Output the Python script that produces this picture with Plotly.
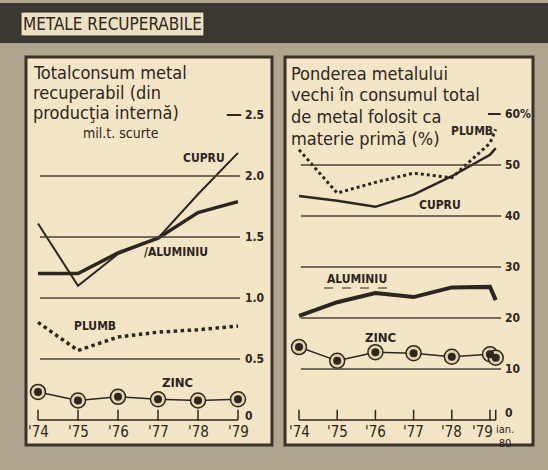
import plotly.graph_objects as go

# ---------------- data ----------------
years = [1974, 1975, 1976, 1977, 1978, 1979]
year_labels = ["'74", "'75", "'76", "'77", "'78", "'79"]

# left panel: total consumption of recovered metal (mil. short tons)
cupru_total = [1.61, 1.10, 1.36, 1.49, 1.85, 2.19]
aluminiu_total = [1.20, 1.20, 1.37, 1.49, 1.70, 1.79]
plumb_total = [0.80, 0.57, 0.68, 0.72, 0.74, 0.77]
zinc_total = [0.23, 0.16, 0.19, 0.17, 0.16, 0.17]
left_ticks = [0, 0.5, 1.0, 1.5, 2.0, 2.5]
left_tick_labels = ["0", "0.5", "1.0", "1.5", "2.0", "2.5"]

# right panel: share of old metal (%), incl. January 1980
years_r = [1974, 1975, 1976, 1977, 1978, 1979, 1979.15]
cupru_pond = [43.9, 43.0, 41.8, 44.2, 47.8, 52.0, 53.3]
plumb_pond = [53.0, 44.5, 46.6, 48.4, 47.5, 54.3, 57.0]
aluminiu_pond = [20.4, 23.1, 24.9, 24.1, 26.0, 26.1, 23.5]
zinc_pond = [14.3, 11.6, 13.3, 13.1, 12.4, 12.9, 12.2]
right_ticks = [0, 10, 20, 30, 40, 50, 60]
right_tick_labels = ["0", "10", "20", "30", "40", "50", "60%"]

left_title_lines = ["Totalconsum metal", "recuperabil (din", "producţia internă)"]
right_title_lines = ["Ponderea metalului", "vechi în consumul total",
                     "de metal folosit ca", "materie primă (%)"]

# ---------------- style ----------------
W, H = 548, 470
INK = "#2b2620"
CREAM = "#f4e5c6"
FONT = "DejaVu Sans Condensed, Liberation Sans Narrow, DejaVu Sans"


def px(x):
    return x / W


def py(y):
    return 1 - y / H


fig = go.Figure()

# left panel traces
fig.add_trace(go.Scatter(x=years, y=cupru_total, mode="lines",
                         line=dict(color=INK, width=2), xaxis="x", yaxis="y"))
fig.add_trace(go.Scatter(x=years, y=aluminiu_total, mode="lines",
                         line=dict(color=INK, width=3.5), xaxis="x", yaxis="y"))
fig.add_trace(go.Scatter(x=years, y=plumb_total, mode="lines",
                         line=dict(color=INK, width=3.5, dash="dot"), xaxis="x", yaxis="y"))
fig.add_trace(go.Scatter(x=years, y=zinc_total, mode="lines+markers",
                         line=dict(color=INK, width=1.5),
                         marker=dict(size=15, color="#e6d3ac", line=dict(color=INK, width=1.5)),
                         cliponaxis=False, xaxis="x", yaxis="y"))
fig.add_trace(go.Scatter(x=years, y=zinc_total, mode="markers",
                         marker=dict(size=8, color=INK), cliponaxis=False,
                         xaxis="x", yaxis="y"))

# right panel traces
fig.add_trace(go.Scatter(x=years_r, y=cupru_pond, mode="lines",
                         line=dict(color=INK, width=2.5), xaxis="x2", yaxis="y2"))
fig.add_trace(go.Scatter(x=years_r, y=plumb_pond, mode="lines",
                         line=dict(color=INK, width=3, dash="dot"), xaxis="x2", yaxis="y2"))
fig.add_trace(go.Scatter(x=years_r, y=aluminiu_pond, mode="lines",
                         line=dict(color=INK, width=4), xaxis="x2", yaxis="y2"))
fig.add_trace(go.Scatter(x=years_r, y=zinc_pond, mode="lines+markers",
                         line=dict(color=INK, width=1.5),
                         marker=dict(size=15, color="#e6d3ac", line=dict(color=INK, width=1.5)),
                         cliponaxis=False, xaxis="x2", yaxis="y2"))
fig.add_trace(go.Scatter(x=years_r, y=zinc_pond, mode="markers",
                         marker=dict(size=8, color=INK), cliponaxis=False,
                         xaxis="x2", yaxis="y2"))

shapes = []
ann = []

# background decorations (paper coords)
shapes.append(dict(type="rect", xref="paper", yref="paper", x0=0, x1=1, y0=py(43), y1=py(3),
                   fillcolor="#3b3832", line=dict(width=0), layer="below"))
shapes.append(dict(type="rect", xref="paper", yref="paper", x0=px(21), x1=px(204), y0=py(36), y1=py(12),
                   fillcolor="#eee0c2", line=dict(color=INK, width=1), layer="below"))
for x0, x1 in [(26, 272), (285, 533)]:
    shapes.append(dict(type="rect", xref="paper", yref="paper", x0=px(x0), x1=px(x1), y0=py(445), y1=py(57),
                       fillcolor=CREAM, line=dict(color="#38332c", width=3), layer="below"))

ann.append(dict(xref="paper", yref="paper", x=px(112.5), y=py(24), text="METALE RECUPERABILE",
                showarrow=False, xanchor="center", yanchor="middle",
                font=dict(family=FONT, size=17, color=INK)))

# left grid / ticks
for v, lab in zip(left_ticks, left_tick_labels):
    if v == 0:
        ann.append(dict(xref="x", yref="y", x=1979.13, y=v, text=lab, showarrow=False,
                        xanchor="left", yanchor="bottom", yshift=-5,
                        font=dict(family=FONT, size=12, color=INK, weight="bold")))
        continue
    elif v == left_ticks[-1]:
        shapes.append(dict(type="line", xref="x", yref="y", x0=1978.72, x1=1979.08, y0=v, y1=v,
                           line=dict(color=INK, width=2)))
    else:
        shapes.append(dict(type="line", xref="x", yref="y", x0=1974.05, x1=1979.05, y0=v, y1=v,
                           line=dict(color="#4a4236", width=1.6)))
    ann.append(dict(xref="x", yref="y", x=1979.13, y=v, text=lab, showarrow=False,
                    xanchor="left", yanchor="middle",
                    font=dict(family=FONT, size=12, color=INK, weight="bold")))
shapes.append(dict(type="line", xref="x", yref="y", x0=years[0], x1=years[-1], y0=0, y1=0,
                   line=dict(color=INK, width=1.5)))
for yr, lab in zip(years, year_labels):
    shapes.append(dict(type="line", xref="x", yref="y", x0=yr, x1=yr, y0=0, y1=0.085,
                       line=dict(color=INK, width=1.5)))
    ann.append(dict(xref="x", yref="y", x=yr, y=0, text=lab, showarrow=False,
                    xanchor="center", yanchor="top", yshift=-1,
                    font=dict(family=FONT, size=15, color=INK)))

# right grid / ticks
for v, lab in zip(right_ticks, right_tick_labels):
    if v == 0:
        ann.append(dict(xref="x2", yref="y2", x=1979.33, y=v, text=lab, showarrow=False,
                        xanchor="left", yanchor="bottom", yshift=-2,
                        font=dict(family=FONT, size=12, color=INK, weight="bold")))
        continue
    elif v == right_ticks[-1]:
        shapes.append(dict(type="line", xref="x2", yref="y2", x0=1978.95, x1=1979.28, y0=v, y1=v,
                           line=dict(color=INK, width=2)))
    else:
        shapes.append(dict(type="line", xref="x2", yref="y2", x0=1974.05, x1=1979.29, y0=v, y1=v,
                           line=dict(color="#4a4236", width=1.6)))
    ann.append(dict(xref="x2", yref="y2", x=1979.33, y=v, text=lab, showarrow=False,
                    xanchor="left", yanchor="middle",
                    font=dict(family=FONT, size=12, color=INK, weight="bold")))
shapes.append(dict(type="line", xref="x2", yref="y2", x0=years_r[0], x1=years_r[-1], y0=0, y1=0,
                   line=dict(color=INK, width=1.5)))
for yr in years_r:
    shapes.append(dict(type="line", xref="x2", yref="y2", x0=yr, x1=yr, y0=0, y1=2.0,
                       line=dict(color=INK, width=1.5)))
for yr, lab in zip(years, year_labels):
    ann.append(dict(xref="x2", yref="y2", x=yr, y=0, text=lab, showarrow=False,
                    xanchor="center", yanchor="top", yshift=-1,
                    xshift=(-8 if yr == years[-1] else 0),
                    font=dict(family=FONT, size=15, color=INK)))
ann.append(dict(xref="x2", yref="y2", x=1979.4, y=0, text="ian.<br>80", showarrow=False,
                xanchor="center", yanchor="top", align="center", yshift=-1,
                font=dict(family=FONT, size=11, color=INK)))

# panel titles (one annotation per printed line)
for i, t in enumerate(left_title_lines):
    ann.append(dict(xref="paper", yref="paper", x=px(31), y=py(72 + 20.5 * i), text=t,
                    showarrow=False, xanchor="left", yanchor="middle",
                    font=dict(family=FONT, size=18, color=INK)))
ann.append(dict(xref="paper", yref="paper", x=px(121), y=py(133), text="mil.t. scurte",
                showarrow=False, xanchor="center", yanchor="middle",
                font=dict(family=FONT, size=14, color=INK)))
for i, t in enumerate(right_title_lines):
    ann.append(dict(xref="paper", yref="paper", x=px(289), y=py(73 + 21.7 * i), text=t,
                    showarrow=False, xanchor="left", yanchor="middle",
                    font=dict(family=FONT, size=18, color=INK)))


# series labels
def lab(x, y, t, size=12):
    ann.append(dict(xref="paper", yref="paper", x=px(x), y=py(y), text=t, showarrow=False,
                    xanchor="center", yanchor="middle",
                    font=dict(family=FONT, size=size, color=INK, weight="bold")))


lab(204, 158, "CUPRU")
lab(176, 252, "/ALUMINIU")
lab(95, 326, "PLUMB")
lab(177, 382, "ZINC", 13)
lab(472, 131, "PLUMB")
lab(440, 205, "CUPRU")
lab(357, 279, "ALUMINIU")
lab(380, 337, "ZINC", 13)
shapes.append(dict(type="line", xref="paper", yref="paper", x0=px(324), x1=px(392), y0=py(288), y1=py(288),
                   line=dict(color=INK, width=1, dash="dash")))

fig.update_layout(
    width=W, height=H, margin=dict(l=0, r=0, t=0, b=0),
    paper_bgcolor="#b0a68f", plot_bgcolor="rgba(0,0,0,0)",
    showlegend=False, shapes=shapes, annotations=ann,
    xaxis=dict(domain=[px(26), px(272)], range=[1973.7, 1979.85], visible=False, fixedrange=True),
    yaxis=dict(domain=[py(445), py(57)], range=[-25 / 122, 363 / 122], visible=False, fixedrange=True),
    xaxis2=dict(domain=[px(285), px(533)], range=[1974 - 14 / 38.2, 1974 + 234 / 38.2],
                visible=False, fixedrange=True, anchor="y2"),
    yaxis2=dict(domain=[py(445), py(57)], range=[-25 / 5.1, 363 / 5.1], visible=False,
                fixedrange=True, anchor="x2"),
)

fig.write_html("out.html", config={"displayModeBar": False},
               post_script="document.body.style.margin='0';document.body.style.overflow='hidden';")
